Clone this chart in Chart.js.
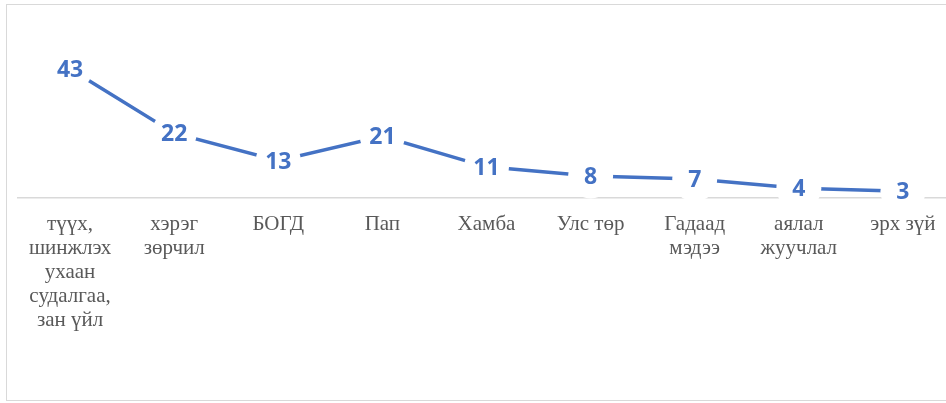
<!DOCTYPE html>
<html>
<head>
<meta charset="utf-8">
<script src="https://cdn.jsdelivr.net/npm/chart.js@4.4.1/dist/chart.umd.min.js"></script>
<style>
  html, body { margin: 0; padding: 0; background: #fff; overflow: hidden; width: 946px; height: 403px; }
  #frame { position: absolute; left: 6px; top: 4px; width: 1000px; height: 397px; border: 1px solid #d9d9d9; box-sizing: border-box; }
  #wrap { position: absolute; left: 0; top: 0; width: 1000px; height: 403px; }
</style>
</head>
<body>
<div id="frame"></div>
<div id="wrap"><canvas id="c" width="1000" height="403"></canvas></div>
<script>
const categories = [
  ['түүх,', 'шинжлэх', 'ухаан', 'судалгаа,', 'зан үйл'],
  ['хэрэг', 'зөрчил'],
  'БОГД',
  'Пап',
  'Хамба',
  'Улс төр',
  ['Гадаад', 'мэдээ'],
  ['аялал', 'жуучлал'],
  'эрх зүй'
];
const values = [43, 22, 13, 21, 11, 8, 7, 4, 3];

const lineColor = '#4472C4';

const labelPlugin = {
  id: 'valueLabels',
  afterDatasetsDraw(chart) {
    const ctx = chart.ctx;
    const meta = chart.getDatasetMeta(0);
    ctx.save();
    ctx.font = 'bold 23px "Open Sans"';
    ctx.fillStyle = lineColor;
    ctx.textAlign = 'center';
    ctx.textBaseline = 'alphabetic';
    meta.data.forEach((pt, i) => {
      const v = chart.data.datasets[0].data[i];
      ctx.fillText(String(v), pt.x, pt.y + 8.2);
    });
    ctx.restore();
  }
};

new Chart(document.getElementById('c'), {
  type: 'line',
  data: {
    labels: categories,
    datasets: [{
      data: values,
      borderColor: lineColor,
      borderWidth: 3.5,
      pointRadius: 22.5,
      pointHoverRadius: 22.5,
      pointBackgroundColor: '#ffffff',
      pointBorderWidth: 0,
      pointBorderColor: 'rgba(0,0,0,0)',
      tension: 0,
      fill: false,
      clip: false
    }]
  },
  options: {
    responsive: false,
    animation: false,
    events: [],
    layout: { autoPadding: false, padding: { left: 18, right: 45, top: 20, bottom: 0 } },
    plugins: { legend: { display: false }, tooltip: { enabled: false }, title: { display: false } },
    scales: {
      x: {
        type: 'category',
        offset: true,
        grid: { display: false, drawTicks: false },
        border: { display: true, color: '#d9d9d9', width: 1.5 },
        ticks: {
          autoSkip: false,
          maxRotation: 0,
          minRotation: 0,
          padding: 14,
          color: '#595959',
          font: { family: '"Liberation Serif", "Times New Roman", serif', size: 21, lineHeight: '24px' }
        },
        afterFit(scale) { scale.height = 205; }
      },
      y: {
        display: false,
        min: 0.8,
        max: 59
      }
    }
  },
  plugins: [labelPlugin]
});
</script>
</body>
</html>
